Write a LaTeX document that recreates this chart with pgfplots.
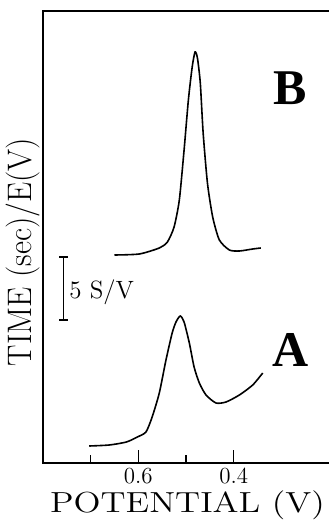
\documentclass[border=0pt]{standalone}
\usepackage{fontspec}
\usepackage{graphicx}
\usepackage{pgfplots}
\pgfplotsset{compat=1.18}
\newfontfamily\timesb{Liberation Serif}
\begin{document}
\begin{tikzpicture}
\path[use as bounding box] (0,0) rectangle (164.5pt,260pt);
\begin{axis}[at={(21.5pt,28.5pt)}, anchor=south west, scale only axis,
  width=143pt, height=226pt,
  xmin=0.2, xmax=0.8, ymin=0, ymax=452, x dir=reverse,
  axis line style={draw=none},
  ytick=\empty,
  xtick={0.4,0.6}, minor xtick={0.5,0.7},
  xtick pos=left, tick align=inside,
  major tick length=6.5pt, minor tick length=4pt,
  every tick/.style={black, line width=0.7pt},
  /pgf/number format/assume math mode=true,
  xticklabel style={font=\fontsize{11.5}{13}\selectfont, inner sep=0pt, yshift=-2.5pt},
  clip=false]
\draw[line width=0.7pt] (rel axis cs:1,1) -- (rel axis cs:0,1) -- (rel axis cs:0,0) -- (rel axis cs:1,0);
% Curve A
\addplot[black, line width=0.8pt, smooth, tension=0.4] coordinates {
(0.703,17) (0.661,18) (0.625,21) (0.602,26) (0.584,31) (0.571,46) (0.556,70)
(0.542,103) (0.529,130) (0.521,141) (0.512,147) (0.504,141) (0.493,120)
(0.483,96) (0.472,80) (0.458,68) (0.437,60) (0.416,61) (0.388,68) (0.360,78) (0.339,90)
};
% Curve B
\addplot[black, line width=0.8pt, smooth, tension=0.4] coordinates {
(0.650,208) (0.598,209) (0.556,215) (0.539,221) (0.525,236) (0.514,263)
(0.504,313) (0.495,363) (0.487,396) (0.481,411) (0.476,405) (0.470,380)
(0.464,330) (0.455,280) (0.444,246) (0.430,223) (0.409,213) (0.388,212)
(0.360,214) (0.343,215)
};
% scale bar
\draw[line width=0.7pt] (axis cs:0.757,143) -- (axis cs:0.757,206);
\draw[line width=0.7pt] ([xshift=-2.2pt]axis cs:0.757,143) -- ([xshift=2.2pt]axis cs:0.757,143);
\draw[line width=0.7pt] ([xshift=-2.2pt]axis cs:0.757,206) -- ([xshift=2.2pt]axis cs:0.757,206);
\end{axis}
\node[rotate=90, font=\fontsize{17}{20}\selectfont] at (11.5pt,134pt) {\scalebox{0.94}[1]{TIME (sec)/E(V)}};
\node[anchor=base, font=\fontsize{14.5}{17}\selectfont, inner sep=0pt] at (93.75pt,4pt) {\scalebox{1.22}[1]{POTENTIAL (V)}};
\node[anchor=west, inner sep=0pt, font=\fontsize{12.5}{14}\selectfont] at (34.5pt,114pt) {5 S/V};
\node[font=\timesb\bfseries\fontsize{25}{28}\selectfont, inner sep=0pt] at (145pt,216pt) {B};
\node[font=\timesb\bfseries\fontsize{25}{28}\selectfont, inner sep=0pt] at (145.5pt,85pt) {A};
\end{tikzpicture}
\end{document}
